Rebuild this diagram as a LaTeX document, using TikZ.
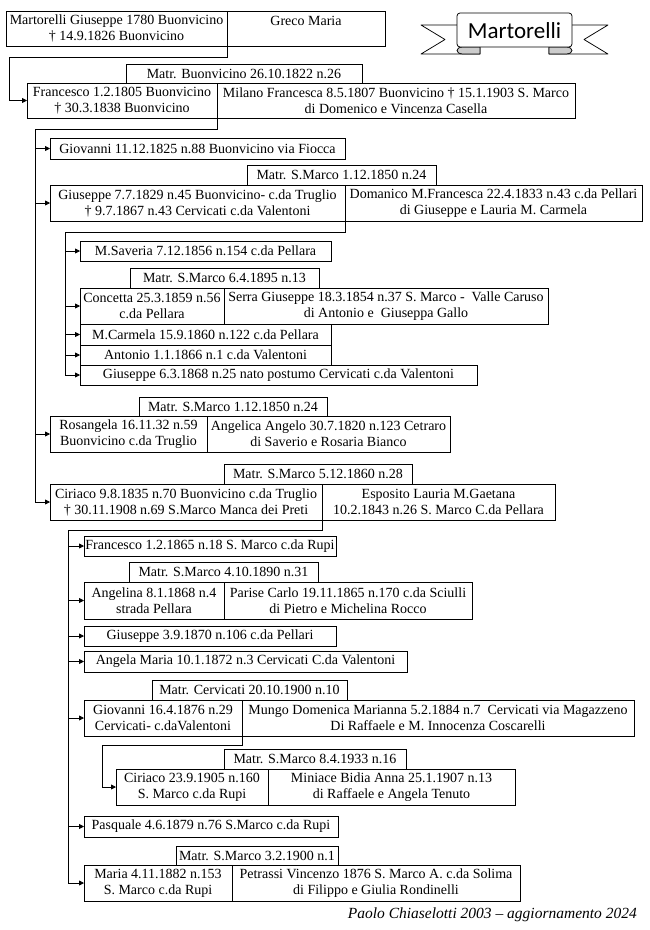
\documentclass[tikz,border=0pt]{standalone}
\usepackage{fontspec}
\setmainfont{Liberation Serif}
\newfontfamily\bannerfont{Carlito}
\usetikzlibrary{arrows.meta}
\begin{document}
\begin{tikzpicture}[x=1pt,y=-1pt,
 box/.style={draw, line width=0.75pt, inner sep=0pt, outer sep=0pt, anchor=north west, align=center, font=\fontsize{14}{16}\selectfont},
 arr/.style={line width=0.75pt, -{Triangle[length=5pt,width=5pt]}},
 ribbon/.style={line width=0.75pt, line join=round}]
\useasboundingbox (0,0) rectangle (650,930);
\fill[white] (0,0) rectangle (650,930);

% banner
\filldraw[ribbon, fill=white] (457,25) -- (421,25) -- (445,39.5) -- (421,54) -- (480,54) -- (480,47);
\filldraw[ribbon, fill=white] (572,25) -- (608,25) -- (584,39.5) -- (608,54) -- (549,54) -- (549,47);
\filldraw[ribbon, fill=gray!40] (480,47) -- (463,47) .. controls (455,47) and (455,54) .. (463,54) -- (480,54) -- cycle;
\filldraw[ribbon, fill=gray!40] (549,47) -- (566,47) .. controls (574,47) and (574,54) .. (566,54) -- (549,54) -- cycle;
\filldraw[ribbon, fill=white, rounded corners=3pt] (457,13) rectangle (572,47);
\node[font=\bannerfont\fontsize{23}{25}\selectfont] (ban) at (514.5,30.5) {Martorelli};

% generation 1
\node[box, minimum width=221pt, minimum height=35pt] (b1) at (6,11) {Martorelli Giuseppe 1780 Buonvicino\\\textdagger{} 14.9.1826 Buonvicino};
\node[box, minimum width=158pt, minimum height=35pt] (b1s) at (227,11) {Greco Maria\\\mbox{}};

% generation 2
\node[box, minimum width=236pt, minimum height=19pt] (m1) at (126,64) {Matr. Buonvicino 26.10.1822 n.26};
\node[box, minimum width=190pt, minimum height=35pt] (b2) at (27,83) {Francesco 1.2.1805 Buonvicino\\\textdagger{} 30.3.1838 Buonvicino};
\node[box, minimum width=358pt, minimum height=35pt] (b2s) at (217,83) {Milano Francesca 8.5.1807 Buonvicino \textdagger{} 15.1.1903 S. Marco\\di Domenico e Vincenza Casella};

% generation 3
\node[box, minimum width=295pt, minimum height=21pt] (c1) at (50,138) {Giovanni 11.12.1825 n.88 Buonvicino via Fiocca};
\node[box, minimum width=189pt, minimum height=20pt] (m2) at (247,165) {Matr. S.Marco 1.12.1850 n.24};
\node[box, minimum width=295pt, minimum height=36pt] (c2) at (50,185) {Giuseppe 7.7.1829 n.45 Buonvicino- c.da Truglio\\\textdagger{} 9.7.1867 n.43 Cervicati c.da Valentoni};
\node[box, minimum width=297pt, minimum height=36pt] (c2s) at (345,185) {Domanico M.Francesca 22.4.1833 n.43 c.da Pellari\\di Giuseppe e Lauria M. Carmela};

% children of Giuseppe
\node[box, minimum width=251pt, minimum height=20pt] (d1) at (80,241) {M.Saveria 7.12.1856 n.154 c.da Pellara};
\node[box, minimum width=189pt, minimum height=20pt] (m3) at (130,268) {Matr. S.Marco 6.4.1895 n.13};
\node[box, minimum width=144pt, minimum height=36pt] (d2) at (80,288) {Concetta 25.3.1859 n.56\\c.da Pellara};
\node[box, minimum width=324pt, minimum height=36pt] (d2s) at (224,288) {Serra Giuseppe 18.3.1854 n.37 S. Marco -\ \ Valle Caruso\\di Antonio e\ \ Giuseppa Gallo};
\node[box, minimum width=251pt, minimum height=21pt] (d3) at (80,324) {M.Carmela 15.9.1860 n.122 c.da Pellara};
\node[box, minimum width=251pt, minimum height=20pt] (d4) at (80,345) {Antonio 1.1.1866 n.1 c.da Valentoni};
\node[box, minimum width=397pt, minimum height=20pt] (d5) at (80,365) {Giuseppe 6.3.1868 n.25 nato postumo Cervicati c.da Valentoni};

\node[box, minimum width=188pt, minimum height=19pt] (m4) at (139,397) {Matr. S.Marco 1.12.1850 n.24};
\node[box, minimum width=157pt, minimum height=36pt] (c3) at (50,416) {Rosangela 16.11.32 n.59\\Buonvicino c.da Truglio};
\node[box, minimum width=243pt, minimum height=36pt] (c3s) at (207,416) {Angelica Angelo 30.7.1820 n.123 Cetraro\\di Saverio e Rosaria Bianco};

\node[box, minimum width=188pt, minimum height=20pt] (m5) at (224,464) {Matr. S.Marco 5.12.1860 n.28};
\node[box, minimum width=272pt, minimum height=36pt] (c4) at (50,484) {Ciriaco 9.8.1835 n.70 Buonvicino c.da Truglio\\\textdagger{} 30.11.1908 n.69 S.Marco Manca dei Preti};
\node[box, minimum width=233pt, minimum height=36pt] (c4s) at (322,484) {Esposito Lauria M.Gaetana\\10.2.1843 n.26 S. Marco C.da Pellara};

% children of Ciriaco
\node[box, minimum width=252pt, minimum height=20pt] (e1) at (84,536) {Francesco 1.2.1865 n.18 S. Marco c.da Rupi};
\node[box, minimum width=189pt, minimum height=20pt] (m6) at (129,562) {Matr. S.Marco 4.10.1890 n.31};
\node[box, minimum width=140pt, minimum height=37pt] (e2) at (84,582) {Angelina 8.1.1868 n.4\\strada Pellara};
\node[box, minimum width=248pt, minimum height=37pt] (e2s) at (224,582) {Parise Carlo 19.11.1865 n.170 c.da Sciulli\\di Pietro e Michelina Rocco};
\node[box, minimum width=252pt, minimum height=20pt] (e3) at (84,626) {Giuseppe 3.9.1870 n.106 c.da Pellari};
\node[box, minimum width=323pt, minimum height=21pt] (e4) at (84,651) {Angela Maria 10.1.1872 n.3 Cervicati C.da Valentoni};
\node[box, minimum width=195pt, minimum height=20pt] (m7) at (152,680) {Matr. Cervicati 20.10.1900 n.10};
\node[box, minimum width=158pt, minimum height=36pt] (e5) at (84,700) {Giovanni 16.4.1876 n.29\\Cervicati- c.daValentoni};
\node[box, minimum width=392pt, minimum height=36pt] (e5s) at (242,700) {Mungo Domenica Marianna 5.2.1884 n.7\ \ Cervicati via Magazzeno\\Di Raffaele e M. Innocenza Coscarelli};
\node[box, minimum width=182pt, minimum height=20pt] (m8) at (224,749) {Matr. S.Marco 8.4.1933 n.16};
\node[box, minimum width=152pt, minimum height=36pt] (f1) at (116,769) {Ciriaco 23.9.1905 n.160\\S. Marco c.da Rupi};
\node[box, minimum width=247pt, minimum height=36pt] (f1s) at (268,769) {Miniace Bidia Anna 25.1.1907 n.13\\di Raffaele e Angela Tenuto};
\node[box, minimum width=254pt, minimum height=21pt] (e6) at (84,816) {Pasquale 4.6.1879 n.76 S.Marco c.da Rupi};
\node[box, minimum width=162pt, minimum height=19pt] (m9) at (176,846) {Matr. S.Marco 3.2.1900 n.1};
\node[box, minimum width=148pt, minimum height=36pt] (e7) at (84,865) {Maria 4.11.1882 n.153\\S. Marco c.da Rupi};
\node[box, minimum width=288pt, minimum height=36pt] (e7s) at (232,865) {Petrassi Vincenzo 1876 S. Marco A. c.da Solima\\di Filippo e Giulia Rondinelli};

% footer
\node[anchor=base east, inner sep=0pt, font=\fontsize{15.5}{17}\selectfont\itshape] (foot) at (637,918) {Paolo Chiaselotti 2003 -- aggiornamento 2024};

% connectors
\draw[arr] (b1.south east) -- ++(0,11) -| ([xshift=-18pt]b2.west) -- (b2.west);

\draw[arr] (b2.south east) -- ++(0,11) -| ([xshift=-15pt]c4.west) -- (c4.west);
\foreach \n in {c1,c2,c3} \draw[arr] ([xshift=-15pt]\n.west) -- (\n.west);

\draw[arr] (c2.south east) -- ++(0,11) -| ([xshift=-15pt]d5.west) -- (d5.west);
\foreach \n in {d1,d2,d3,d4} \draw[arr] ([xshift=-15pt]\n.west) -- (\n.west);

\draw[arr] (c4.south east) -- ++(0,10) -| ([xshift=-16pt]e7.west) -- (e7.west);
\foreach \n in {e1,e2,e3,e4,e5,e6} \draw[arr] ([xshift=-16pt]\n.west) -- (\n.west);

\draw[arr] (e5.south east) -- ++(0,9) -| ([xshift=-14pt]f1.west) -- (f1.west);
\end{tikzpicture}
\end{document}
